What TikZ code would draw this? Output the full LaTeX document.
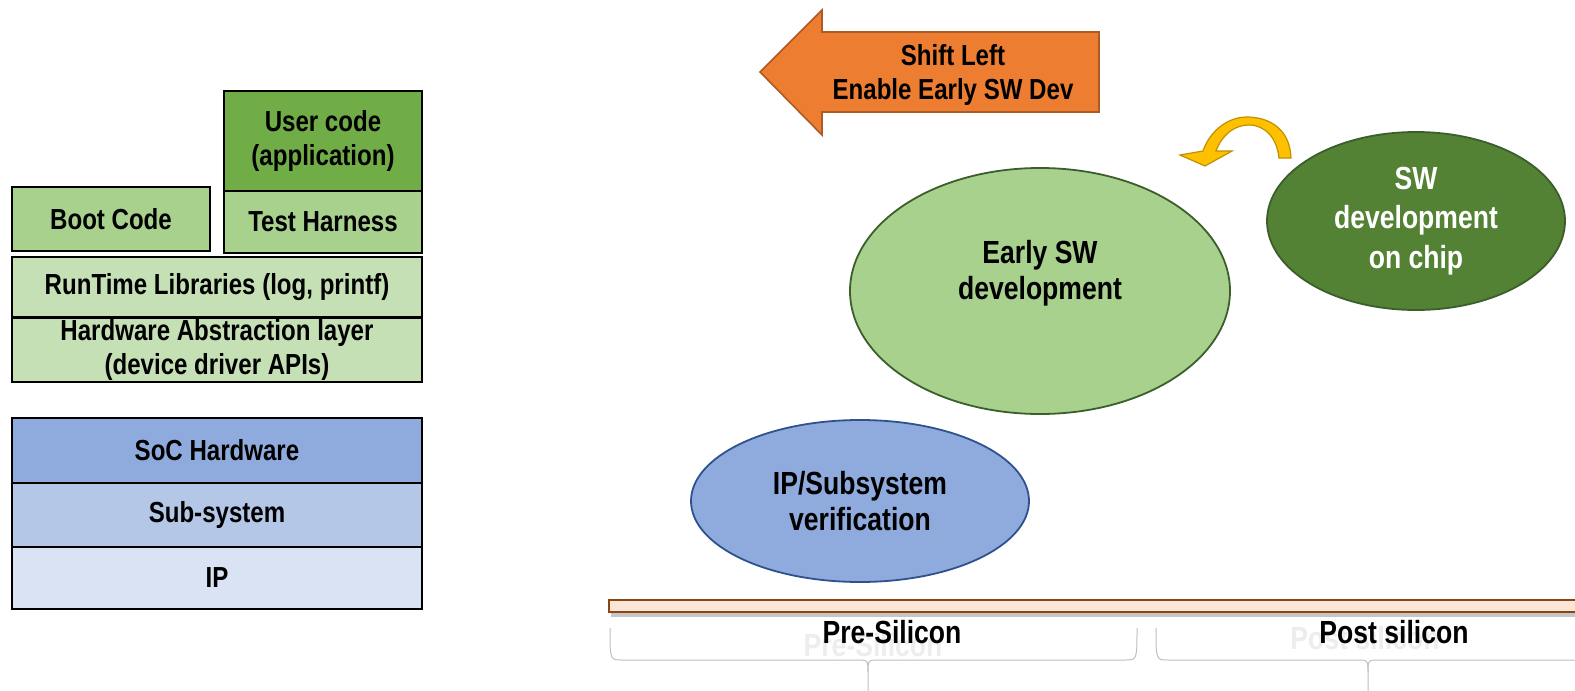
\documentclass[tikz,border=0pt]{standalone}
\usepackage{fontspec}
\setmainfont{Liberation Sans}[FakeStretch=0.83]
\usetikzlibrary{shapes.geometric,shadows}
\definecolor{usergreen}{HTML}{70AD47}
\definecolor{midgreen}{HTML}{A9D18E}
\definecolor{palegreen}{HTML}{C5E0B4}
\definecolor{darkgreen}{HTML}{548235}
\definecolor{edgegreen}{HTML}{3B5E2B}
\definecolor{socblue}{HTML}{8FAADC}
\definecolor{subblue}{HTML}{B4C7E7}
\definecolor{ipblue}{HTML}{DAE3F3}
\definecolor{edgeblue}{HTML}{2F528F}
\definecolor{orangefill}{HTML}{ED7D31}
\definecolor{orangeedge}{HTML}{AE5A21}
\definecolor{goldfill}{HTML}{FFC000}
\definecolor{goldedge}{HTML}{BF9000}
\definecolor{barfill}{HTML}{FBE5D6}
\definecolor{baredge}{HTML}{8B4513}
\definecolor{bracegray}{HTML}{BFBFBF}
\definecolor{ghost}{HTML}{EDEDED}
\begin{document}
\begin{tikzpicture}[x=0.5pt,y=-0.5pt,
  font=\bfseries\fontsize{14.5}{17}\selectfont,
  big/.style={font=\bfseries\fontsize{16}{18}\selectfont},
  layer/.style={draw=black, line width=1pt, inner sep=0pt, align=center},
  blob/.style={ellipse, inner sep=0pt, line width=0.9pt, align=center, big},
  lbl/.style={align=center, inner sep=0pt},
  bracestyle/.style={draw=bracegray, line width=0.5pt}]
\useasboundingbox (0,0) rectangle (1575,691);

% left stack
\node[layer, fill=usergreen, minimum width=99pt, minimum height=50pt] (user) at (323,141) {User code\\(application)};
\node[layer, fill=midgreen, minimum width=99pt, minimum height=31pt] (test) at (323,222) {Test Harness};
\node[layer, fill=midgreen, minimum width=99pt, minimum height=32pt] (boot) at (111,219) {Boot Code};
\node[layer, fill=palegreen, minimum width=205pt, minimum height=30pt] (rt) at (217,287) {RunTime Libraries (log, printf)};
\node[layer, fill=palegreen, minimum width=205pt, minimum height=32pt] (hal) at (217,350) {Hardware Abstraction layer\\(device driver APIs)};
\node[layer, fill=socblue, minimum width=205pt, minimum height=32.5pt] (soc) at (217,450.5) {SoC Hardware};
\node[layer, fill=subblue, minimum width=205pt, minimum height=32pt] (sub) at (217,515) {Sub-system};
\node[layer, fill=ipblue, minimum width=205pt, minimum height=31pt] (ip) at (217,578) {IP};

% shift left arrow
\fill[orangefill, draw=orangeedge, line width=0.8pt]
  (1099,32) -- (822,32) -- (822,10) -- (760,72) -- (822,135) -- (822,112) -- (1099,112) -- cycle;
\node[lbl] (shift) at (953,75) {Shift Left\\Enable Early SW Dev};

% ellipses
\node[blob, fill=midgreen, draw=edgegreen, minimum width=190pt, minimum height=123pt] (early) at (1040,291) {};
\node[lbl, big] (earlytxt) at (1040,273) {Early SW\\development};
\node[blob, fill=darkgreen, draw=edgegreen, text=white, minimum width=149pt, minimum height=89pt,
  font=\bfseries\fontsize{16}{19.7}\selectfont] (chip) at (1416,221) {SW\\development\\on chip};
\node[blob, fill=socblue, draw=edgeblue, minimum width=169pt, minimum height=81pt] (ipv) at (860,501) {IP/Subsystem\\verification};

% curved gold arrow
\filldraw[fill=goldfill, draw=goldedge, line width=0.6pt]
  (1291,158) .. controls (1290,128) and (1268,117) .. (1247,117)
  .. controls (1226,117) and (1209,133) .. (1203,151)
  -- (1180,155) -- (1205,166) -- (1232,151) -- (1216,151)
  .. controls (1222,135) and (1234,125) .. (1249,125)
  .. controls (1265,125) and (1277,138) .. (1279,158) -- cycle;

% bottom bar
\node[draw=baredge, fill=barfill, line width=0.8pt, minimum width=486pt, minimum height=6pt, inner sep=0pt,
  drop shadow={opacity=0.45, shadow xshift=1pt, shadow yshift=-2.5pt}] (bar) at (1095,606) {};

% braces
\path[bracestyle] (610,628) .. controls (610,660) and (610,660) .. (622,660) -- (856,660)
  .. controls (868,660) and (868,660) .. (868,672) -- (868,692);
\path[bracestyle] (868,672) .. controls (868,660) and (868,660) .. (880,660) -- (1125,660)
  .. controls (1137,660) and (1137,660) .. (1137,628);
\path[bracestyle] (1156,628) .. controls (1156,660) and (1156,660) .. (1168,660) -- (1356,660)
  .. controls (1368,660) and (1368,660) .. (1368,672) -- (1368,692);
\path[bracestyle] (1368,672) .. controls (1368,660) and (1368,660) .. (1380,660) -- (1580,660);

% labels
\node[lbl, big, text=ghost] (preghost) at (873,645) {Pre-Silicon};
\node[lbl, big, text=ghost] (postghost) at (1365,638) {Post silicon};
\node[lbl, big] (pre) at (892,632) {Pre-Silicon};
\node[lbl, big] (post) at (1394,632) {Post silicon};
\end{tikzpicture}
\end{document}
